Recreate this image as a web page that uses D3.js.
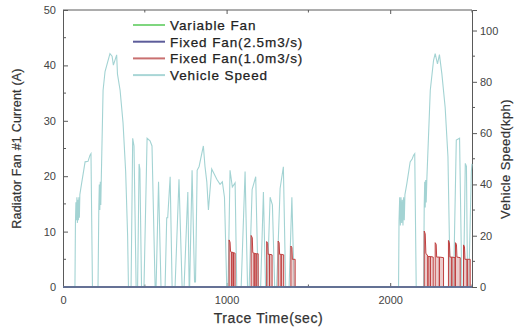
<!DOCTYPE html>
<html>
<head>
<meta charset="utf-8">
<script src="https://cdn.jsdelivr.net/npm/d3@7"></script>
<style>
  body { margin: 0; background: #fff; }
  svg { display: block; font-family: Arial, "Liberation Sans", sans-serif; }
</style>
</head>
<body>
<svg id="chart"></svg>
<script>
// time (s), speed (kph)
const vehicleSpeed = [
  [0, 0], [73, 0], [76, 25], [79, 33], [82, 26], [85, 35], [88, 25], [91, 34], [94, 26], [97, 35],
  [100, 27], [103, 36], [114, 40.5], [135, 48.8], [153, 49], [165, 51.4], [171, 52], [180, 0],
  [214, 0], [219, 31], [222, 40], [225, 30], [228, 41], [231, 32], [234, 42], [245, 76.7], [257, 84],
  [287, 91], [300, 90], [308, 86.5], [328, 90.5], [333, 83], [349, 76.7], [367, 64], [383, 45],
  [395, 20], [400, 0],
  [416, 0], [426, 58], [434, 55], [447, 0],
  [456, 0], [465, 48], [470, 46], [480, 0],
  [495, 0], [514, 58], [532, 57], [544, 55], [563, 0],
  [569, 0], [584, 41], [599, 0],
  [624, 0], [634, 27], [640, 27], [655, 43], [667, 0],
  [685, 0], [709, 42], [728, 0],
  [740, 0], [763, 37], [771, 0],
  [774, 0], [789, 45.5], [804, 2],
  [810, 2], [820, 45.5], [832, 47], [858, 55], [868, 47], [879, 41], [889, 30], [909, 46], [925, 44],
  [940, 42], [960, 40], [974, 41], [987, 35], [1001, 0],
  [1009, 0], [1021, 45.5], [1035, 39], [1052, 40.6], [1062, 0],
  [1089, 0], [1113, 45], [1128, 0],
  [1138, 0], [1156, 38], [1178, 43], [1193, 0],
  [1208, 0], [1225, 37], [1238, 0],
  [1248, 0], [1266, 35], [1280, 32], [1294, 0],
  [1306, 0], [1327, 38.4], [1347, 46.9], [1361, 0],
  [1382, 0], [1399, 35], [1413, 0],
  [2051, 0], [2054, 26], [2058, 35], [2062, 24], [2066, 35], [2070, 25], [2074, 34], [2078, 24],
  [2082, 35], [2086, 26], [2090, 36], [2102, 40.4], [2122, 48.8], [2135, 50], [2143, 51.4], [2150, 52],
  [2159, 0],
  [2204, 0], [2208, 32], [2211, 41], [2214, 31], [2217, 41.7], [2220, 33], [2224, 42], [2245, 76.7],
  [2265, 88.4], [2275, 91], [2289, 87], [2301, 90.6], [2316, 83], [2336, 70], [2353, 50.8], [2367, 0],
  [2387, 0], [2404, 57.3], [2424, 58], [2438, 0],
  [2448, 0], [2459, 48.2], [2466, 47], [2473, 0],
  [2480, 0], [2496, 45], [2500, 48]
]

// time (s), current (A)
const fixedFan10 = [
  [0, 0], [1015, 0], [1015, 8.5], [1021, 8.1], [1024, 6.4], [1031, 6.3], [1031, 0], [1032, 0], [1032, 6.3],
  [1041, 6.2], [1041, 0], [1042, 0], [1042, 6.2], [1052, 6.1], [1052, 0],
  [1150, 0], [1150, 9.3], [1157, 8.9], [1160, 6.2], [1168, 6.1], [1168, 0], [1169, 0], [1169, 6.1],
  [1180, 6.0], [1180, 0], [1181, 0], [1181, 6.0], [1193, 6.0], [1193, 0],
  [1245, 0], [1245, 8.2], [1251, 7.9], [1254, 5.9], [1262, 5.9], [1262, 0], [1263, 0], [1263, 5.9],
  [1278, 5.8], [1278, 0],
  [1315, 0], [1315, 8.3], [1321, 8.0], [1324, 5.9], [1333, 5.9], [1333, 0], [1334, 0], [1334, 5.9],
  [1349, 5.8], [1349, 0],
  [1393, 0], [1393, 7.4], [1399, 7.1], [1402, 5.0], [1419, 5.0], [1419, 0],
  [2208, 0], [2208, 10.1], [2214, 9.6], [2218, 6.1], [2230, 5.6], [2230, 0], [2231, 0], [2231, 5.5],
  [2245, 5.5], [2245, 0], [2246, 0], [2246, 5.5], [2263, 5.4], [2263, 0],
  [2275, 0], [2275, 8.0], [2281, 7.7], [2284, 5.4], [2300, 5.4], [2300, 0], [2301, 0], [2301, 5.4],
  [2326, 5.3], [2326, 0],
  [2356, 0], [2356, 8.4], [2362, 8.0], [2365, 5.4], [2376, 5.4], [2376, 0], [2377, 0], [2377, 5.4],
  [2396, 5.3], [2396, 0],
  [2399, 0], [2399, 8.0], [2405, 7.7], [2408, 5.4], [2428, 5.3], [2428, 0],
  [2448, 0], [2448, 7.6], [2454, 7.3], [2457, 5.0], [2470, 5.0], [2470, 0], [2471, 0], [2471, 5.0],
  [2489, 5.0], [2489, 0], [2500, 0]
]

const fixedFan25 = [[0, 0], [2500, 0]]
const variableFan = [[0, 0], [2500, 0]]

const legendLabels = ["Variable Fan", "Fixed Fan(2.5m3/s)", "Fixed Fan(1.0m3/s)", "Vehicle Speed"]
const legendColors = ["#7fd67f", "#5c5c9a", "#c97070", "#a9d6d6"]

const xTicks = [0, 1000, 2000]
const xMinor = [500, 1500, 2500]
const leftTicks = [0, 10, 20, 30, 40, 50]
const rightTicks = [0, 20, 40, 60, 80, 100]

const width = 521
const height = 332
const margin = { top: 10, right: 49, bottom: 45, left: 63 }

const svg = d3.select("#chart")
  .attr("width", width)
  .attr("height", height)

const x = d3.scaleLinear().domain([0, 2500]).range([margin.left, width - margin.right])
const yL = d3.scaleLinear().domain([0, 50]).range([height - margin.bottom, margin.top])
const yR = d3.scaleLinear().domain([0, 108]).range([height - margin.bottom, margin.top])

const axisColor = "#5a5a5a"
const labelColor = "#444"

// frame top
svg.append("line")
  .attr("x1", x(0)).attr("x2", x(2500))
  .attr("y1", margin.top).attr("y2", margin.top)
  .attr("stroke", axisColor)

// bottom axis, ticks inward
const bottomAxis = svg.append("g")
  .attr("transform", `translate(0,${height - margin.bottom})`)
  .call(d3.axisBottom(x).tickValues(xTicks).tickSize(-4).tickPadding(9).tickFormat(d3.format("d")))
bottomAxis.select(".domain").remove()
bottomAxis.selectAll(".tick line").attr("stroke", axisColor)
bottomAxis.selectAll("text").attr("fill", labelColor).attr("font-size", "11px")
bottomAxis.selectAll(".minor").data(xMinor).join("line")
  .attr("x1", d => x(d)).attr("x2", d => x(d))
  .attr("y1", 0).attr("y2", -2.5)
  .attr("stroke", axisColor)

// top ticks, inward
const topAxis = svg.append("g")
  .attr("transform", `translate(0,${margin.top})`)
  .call(d3.axisTop(x).tickValues(xTicks).tickSize(-4).tickFormat(""))
topAxis.select(".domain").remove()
topAxis.selectAll(".tick line").attr("stroke", axisColor)
topAxis.selectAll(".minor").data(xMinor).join("line")
  .attr("x1", d => x(d)).attr("x2", d => x(d))
  .attr("y1", 0).attr("y2", 2.5)
  .attr("stroke", axisColor)

// left axis, ticks inward
const leftAxis = svg.append("g")
  .attr("transform", `translate(${margin.left},0)`)
  .call(d3.axisLeft(yL).tickValues(leftTicks).tickSize(-5).tickPadding(7))
leftAxis.select(".domain").attr("stroke", axisColor)
leftAxis.selectAll(".tick line").attr("stroke", axisColor)
leftAxis.selectAll("text").attr("fill", labelColor).attr("font-size", "11px")
leftAxis.selectAll(".minor").data(d3.range(5, 50, 10)).join("line")
  .attr("y1", d => yL(d)).attr("y2", d => yL(d))
  .attr("x1", 0).attr("x2", 3)
  .attr("stroke", axisColor)

// right axis, ticks outward
const rightAxis = svg.append("g")
  .attr("transform", `translate(${width - margin.right},0)`)
  .call(d3.axisRight(yR).tickValues(rightTicks).tickSize(5).tickPadding(3))
rightAxis.select(".domain").attr("stroke", axisColor)
rightAxis.selectAll(".tick line").attr("stroke", axisColor)
rightAxis.selectAll("text").attr("fill", labelColor).attr("font-size", "11px")
rightAxis.selectAll(".minor").data(d3.range(10, 108, 20)).join("line")
  .attr("y1", d => yR(d)).attr("y2", d => yR(d))
  .attr("x1", 0).attr("x2", 3)
  .attr("stroke", axisColor)

// series
const speedLine = d3.line().x(d => x(d[0])).y(d => yR(d[1]))
const currentLine = d3.line().x(d => x(d[0])).y(d => yL(d[1]))
const currentArea = d3.area().x(d => x(d[0])).y0(yL(0)).y1(d => yL(d[1]))

svg.append("path")
  .datum(vehicleSpeed)
  .attr("d", speedLine)
  .attr("fill", "none")
  .attr("stroke", "#a3d3d3")
  .attr("stroke-width", 1.1)

svg.append("path")
  .datum(fixedFan10)
  .attr("d", currentArea)
  .attr("fill", "#d99a9a")
  .attr("fill-opacity", 0.5)

svg.append("path")
  .datum(fixedFan10)
  .attr("d", currentLine)
  .attr("fill", "none")
  .attr("stroke", "#bf4040")
  .attr("stroke-width", 1)

svg.append("path")
  .datum(variableFan)
  .attr("d", currentLine)
  .attr("fill", "none")
  .attr("stroke", legendColors[0])
  .attr("stroke-width", 1.5)

svg.append("path")
  .datum(fixedFan25)
  .attr("d", currentLine)
  .attr("fill", "none")
  .attr("stroke", "#55559a")
  .attr("stroke-width", 1.6)

// legend
const legend = svg.append("g")
  .attr("transform", "translate(133,25)")

legend.selectAll("line").data(legendLabels).join("line")
  .attr("x1", 0).attr("x2", 32)
  .attr("y1", (d, i) => i * 16.7).attr("y2", (d, i) => i * 16.7)
  .attr("stroke", (d, i) => legendColors[i])
  .attr("stroke-width", 2)

legend.selectAll("text").data(legendLabels).join("text")
  .attr("x", 37)
  .attr("y", (d, i) => i * 16.7)
  .attr("dy", "0.36em")
  .attr("font-size", "13.5px")
  .attr("letter-spacing", "0.9px")
  .attr("fill", "#222")
  .attr("stroke", "#222")
  .attr("stroke-width", 0.25)
  .text(d => d)

// axis titles
svg.append("text")
  .attr("transform", `translate(21,${(yL(0) + yL(50)) / 2}) rotate(-90)`)
  .attr("text-anchor", "middle")
  .attr("font-size", "12.5px")
  .attr("letter-spacing", "0.2px")
  .attr("fill", "#333")
  .attr("stroke", "#333")
  .attr("stroke-width", 0.2)
  .text("Radiator Fan #1 Current (A)")

svg.append("text")
  .attr("transform", `translate(510,159) rotate(-90)`)
  .attr("text-anchor", "middle")
  .attr("font-size", "13px")
  .attr("letter-spacing", "0.4px")
  .attr("fill", "#333")
  .attr("stroke", "#333")
  .attr("stroke-width", 0.2)
  .text("Vehicle Speed(kph)")

svg.append("text")
  .attr("x", (x(0) + x(2500)) / 2 + 1)
  .attr("y", 323)
  .attr("text-anchor", "middle")
  .attr("font-size", "14px")
  .attr("letter-spacing", "0.6px")
  .attr("fill", "#333")
  .attr("stroke", "#333")
  .attr("stroke-width", 0.25)
  .text("Trace Time(sec)")
</script>
</body>
</html>
